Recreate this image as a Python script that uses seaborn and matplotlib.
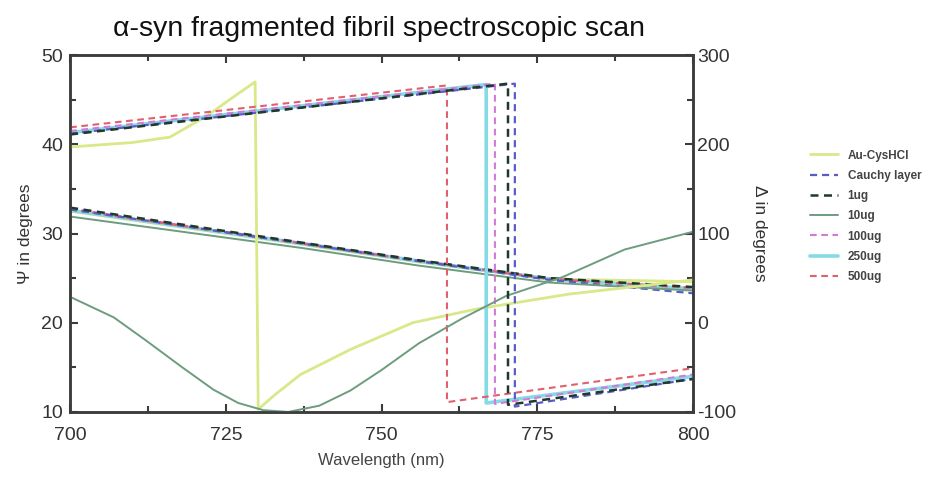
import matplotlib
matplotlib.use("Agg")
import matplotlib.pyplot as plt
from matplotlib.ticker import MultipleLocator
import seaborn as sns
import pandas as pd

# ---------------- data ----------------
samples = ["Au-CysHCl", "Cauchy layer", "1ug", "10ug", "100ug", "250ug", "500ug"]

# Psi (left axis)
wl_psi = [700, 737, 756, 777, 800]
psi_au = [32.5, 28.8, 26.8, 24.9, 24.6]
psi_cauchy = [32.7, 28.9, 26.9, 24.8, 23.3]
psi_1ug = [32.9, 29.0, 27.0, 25.0, 24.0]
psi_10ug = [31.9, 28.4, 26.4, 24.5, 23.6]
psi_100ug = [32.8, 28.95, 26.95, 24.95, 23.9]
psi_250ug = [32.6, 28.9, 26.9, 24.9, 23.8]
psi_500ug = [32.7, 28.9, 26.9, 24.9, 23.9]

# Delta (right axis)
wl_delta_au = [700, 710, 716, 722, 726, 729.7, 730.2, 733, 737, 745, 755, 765, 780, 800]
delta_au = [197, 202, 208, 232, 252, 270, -97, -80, -58, -30, 0, 15, 32, 48]

wl_delta_cauchy = [700, 771.4, 771.4, 800]
delta_cauchy = [212, 268, -94, -63]

wl_delta_1ug = [700, 770.3, 770.3, 800]
delta_1ug = [211, 268, -92, -63]

wl_delta_10ug = [700, 707, 712, 718, 723, 727, 731, 735, 740, 745, 750, 756, 763, 770, 779, 789, 800]
delta_10ug = [29, 6, -19, -50, -75, -90, -98, -100, -93, -76, -53, -23, 5, 30, 51, 82, 102]

wl_delta_100ug = [700, 768.2, 768.2, 800]
delta_100ug = [215, 268, -91, -58]

wl_delta_250ug = [700, 766.8, 766.8, 800]
delta_250ug = [213, 267, -90, -60]

wl_delta_500ug = [700, 760.5, 760.5, 800]
delta_500ug = [219, 266, -89, -51]

# ---------------- styling ----------------
colors = {"Au-CysHCl": "#d9e888", "Cauchy layer": "#5b5bc8", "1ug": "#1e3a28",
          "10ug": "#6d9c7e", "100ug": "#d27ad6", "250ug": "#86d9e6", "500ug": "#e0606e"}
dash = (0, (3.2, 2.2))
styles = {"Au-CysHCl": "-", "Cauchy layer": dash, "1ug": dash, "10ug": "-",
          "100ug": dash, "250ug": "-", "500ug": dash}
widths = {"Au-CysHCl": 2.0, "Cauchy layer": 1.6, "1ug": 1.8, "10ug": 1.4,
          "100ug": 1.5, "250ug": 2.6, "500ug": 1.5}

psi_data = {"Au-CysHCl": psi_au, "Cauchy layer": psi_cauchy, "1ug": psi_1ug, "10ug": psi_10ug,
            "100ug": psi_100ug, "250ug": psi_250ug, "500ug": psi_500ug}
delta_data = {"Au-CysHCl": (wl_delta_au, delta_au), "Cauchy layer": (wl_delta_cauchy, delta_cauchy),
              "1ug": (wl_delta_1ug, delta_1ug), "10ug": (wl_delta_10ug, delta_10ug),
              "100ug": (wl_delta_100ug, delta_100ug), "250ug": (wl_delta_250ug, delta_250ug),
              "500ug": (wl_delta_500ug, delta_500ug)}

sns.set_style("white")
plt.rcParams["font.family"] = ["Liberation Sans", "DejaVu Sans"]
plt.rcParams["axes.unicode_minus"] = False

fig = plt.figure(figsize=(9.48, 4.79), dpi=100)
ax = fig.add_axes([0.074, 0.14, 0.657, 0.745])
ax2 = ax.twinx()

draw_order = ["Au-CysHCl", "250ug", "100ug", "500ug", "Cauchy layer", "10ug", "1ug"]

handles = {}
for s in draw_order:
    dfp = pd.DataFrame({"wavelength": wl_psi, "value": psi_data[s]})
    sns.lineplot(data=dfp, x="wavelength", y="value", ax=ax, color=colors[s],
                 linestyle=styles[s], linewidth=widths[s], estimator=None,
                 sort=False, legend=False)
for s in draw_order:
    wl, dv = delta_data[s]
    dfd = pd.DataFrame({"wavelength": wl, "value": dv})
    sns.lineplot(data=dfd, x="wavelength", y="value", ax=ax2, color=colors[s],
                 linestyle=styles[s], linewidth=widths[s], estimator=None,
                 sort=False, legend=False)
    handles[s] = ax2.lines[-1]

ax.set_xlim(700, 800)
ax.set_ylim(10, 50)
ax2.set_ylim(-100, 300)

spine_c = "#3c3c3c"
for a in (ax, ax2):
    for sp in a.spines.values():
        sp.set_color(spine_c)
        sp.set_linewidth(1.8)
        sp.set_visible(True)

ax.xaxis.set_major_locator(MultipleLocator(25))
ax.xaxis.set_minor_locator(MultipleLocator(12.5))
ax.yaxis.set_major_locator(MultipleLocator(10))
ax.yaxis.set_minor_locator(MultipleLocator(5))
ax2.yaxis.set_major_locator(MultipleLocator(100))
ax2.yaxis.set_minor_locator(MultipleLocator(50))

ax.tick_params(axis="both", which="both", direction="in", colors=spine_c,
               labelcolor="#333333", labelsize=14, width=1.5)
ax.tick_params(axis="x", which="both", top=True, bottom=True)
ax.tick_params(which="major", length=6)
ax.tick_params(which="minor", length=4)
ax2.tick_params(axis="y", which="both", direction="in", colors=spine_c,
                labelcolor="#333333", labelsize=14, width=1.5, right=True, left=False)
ax2.tick_params(which="major", length=6)
ax2.tick_params(which="minor", length=4)
ax.tick_params(axis="x", which="major", pad=11)
ax.tick_params(axis="y", which="major", pad=5)
ax2.tick_params(axis="y", which="major", pad=3)

ax.set_xlabel("Wavelength (nm)", fontsize=12, color="#444444", labelpad=6)
ax.set_ylabel("Ψ in degrees", fontsize=12.5, color="#333333", labelpad=6)
ax2.set_ylabel("Δ in degrees", fontsize=12.5, color="#333333", rotation=270, labelpad=22)

fig.text(0.400, 0.94, "α-syn fragmented fibril spectroscopic scan",
         ha="center", va="center", fontsize=20.5, color="#111111")

fig.legend([handles[s] for s in samples], samples, loc="upper left",
           bbox_to_anchor=(0.843, 0.71), frameon=False,
           handlelength=2.4, labelspacing=0.7, handletextpad=0.8,
           labelcolor="#444444", prop={"weight": "bold", "size": 8.5})

fig.savefig("out.png", dpi=100)
